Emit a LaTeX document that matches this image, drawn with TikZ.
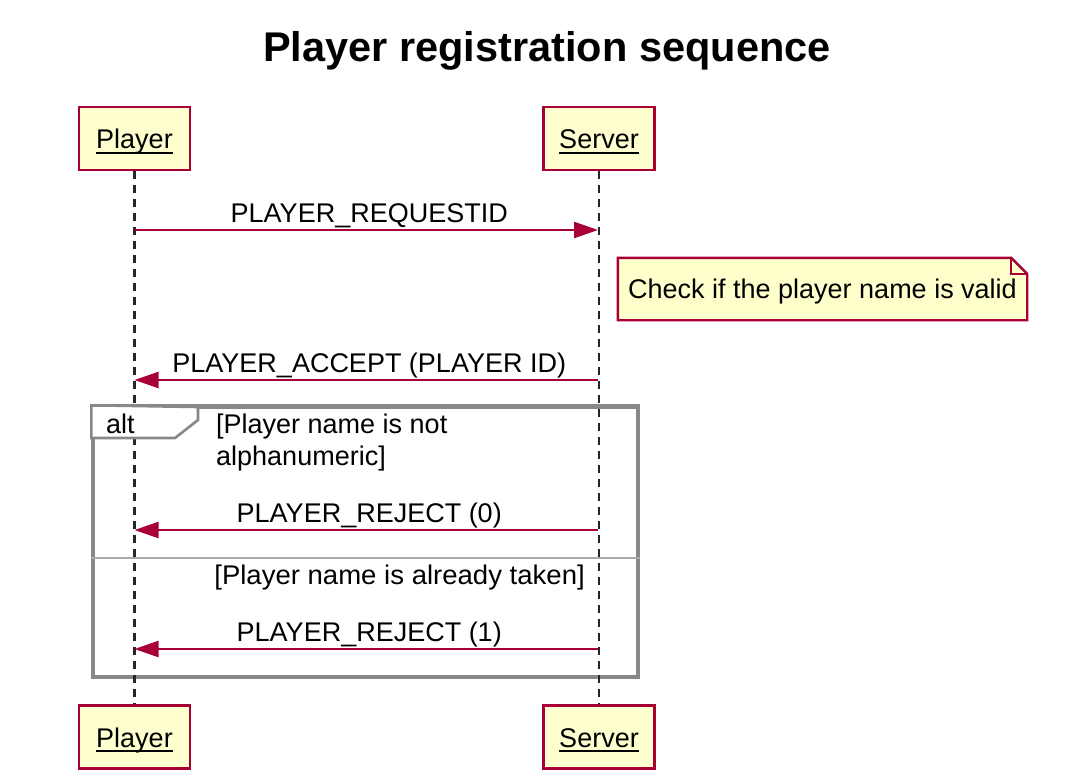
\documentclass[tikz,border=0pt]{standalone}
\usepackage{fontspec}
\setmainfont{Liberation Sans}
\usetikzlibrary{arrows.meta,backgrounds}
\definecolor{umlred}{HTML}{A80036}
\definecolor{umlfill}{HTML}{FEFECE}
\definecolor{notefill}{HTML}{FFFFCC}
\definecolor{framegray}{HTML}{888888}
\definecolor{sepgray}{HTML}{AAAAAA}
\newcommand\ulname[1]{\setbox0\hbox{#1}\rlap{\rule[-5pt]{\wd0}{2pt}}\box0}
\begin{document}
\begin{tikzpicture}[x=1pt,y=-1pt,
  txt/.style={font=\fontsize{27}{32}\selectfont, inner sep=0pt},
  part/.style={txt, draw=umlred, fill=umlfill, line width=2.4pt, minimum width=111pt, minimum height=63pt, text height=30pt, text depth=10pt},
  msg/.style={draw=umlred, line width=2.4pt, -{Triangle[length=24pt,width=16pt]}},
  lbl/.style={txt, anchor=base, midway, yshift=8pt, xshift=3pt},
  life/.style={line width=2.4pt, black!85, dash pattern=on 8pt off 6pt},
  frame/.style={draw=framegray, line width=3.4pt},
]
\useasboundingbox (0,0) rectangle (1072,772);
\node[font=\fontsize{41.5}{46}\selectfont\bfseries, anchor=base, inner sep=0pt] (title) at (547,61) {Player registration sequence};

% alt frame
\node[frame, minimum width=545pt, minimum height=270pt, inner sep=0pt] (alt) at (365.5,542) {};
\draw[draw=sepgray, line width=2.4pt] (alt.west |- 0,558) coordinate (sepl) -- (alt.east |- 0,558) coordinate (sepr);

\node[part] (pt) at (134.5,138.5) {\ulname{Player}};
\node[part] (st) at (599,138.5) {\ulname{Server}};
\node[part] (pb) at (134.5,737) {\ulname{Player}};
\node[part] (sb) at (599,737) {\ulname{Server}};

\draw[life] (pt.south) -- (pb.north);
\draw[life] (st.south) -- (sb.north);

\filldraw[frame, fill=white, line width=2.6pt] (alt.north west) -- (alt.north west |- 0,438) -- (175,438) -- (198,420) -- (198,407) -- cycle;
\draw[frame] (alt.north west) -- (alt.north east);
\node[txt, anchor=base west] (altlbl) at (106,433) {alt};
\node[txt, anchor=north west, align=left] (cond1) at (216,414) {[Player name is not\\alphanumeric]};
\node[txt, anchor=base east, xscale=1.02] (cond2) at (585,584) {[Player name is already taken]};

\coordinate (p1) at (134.5,230); \coordinate (s1) at (598,230);
\coordinate (p2) at (134.5,380); \coordinate (s2) at (598,380);
\coordinate (p3) at (134.5,530); \coordinate (s3) at (598,530);
\coordinate (p4) at (134.5,649); \coordinate (s4) at (598,649);

\draw[msg] (p1) -- (s1) node[lbl] {PLAYER\_REQUESTID};
\draw[msg] (s2) -- (p2) node[lbl] {PLAYER\_ACCEPT (PLAYER ID)};
\draw[msg] (s3) -- (p3) node[lbl] {PLAYER\_REJECT (0)};
\draw[msg] (s4) -- (p4) node[lbl] {PLAYER\_REJECT (1)};

% note
\node[txt, minimum width=409pt, minimum height=62pt, text height=29pt, text depth=10pt] (note) at (822.5,289) {Check if the player name is valid};
\begin{scope}[on background layer]
\draw[draw=umlred, fill=notefill, line width=2.4pt, line join=miter]
  (note.north west) -- ([xshift=-16pt]note.north east) -- ([yshift=-16pt]note.north east)
  -- (note.south east) -- (note.south west) -- cycle;
\draw[draw=umlred, line width=2.4pt]
  ([xshift=-16pt]note.north east) -- ([xshift=-16pt,yshift=-16pt]note.north east) -- ([yshift=-16pt]note.north east);
\end{scope}
\end{tikzpicture}
\end{document}
